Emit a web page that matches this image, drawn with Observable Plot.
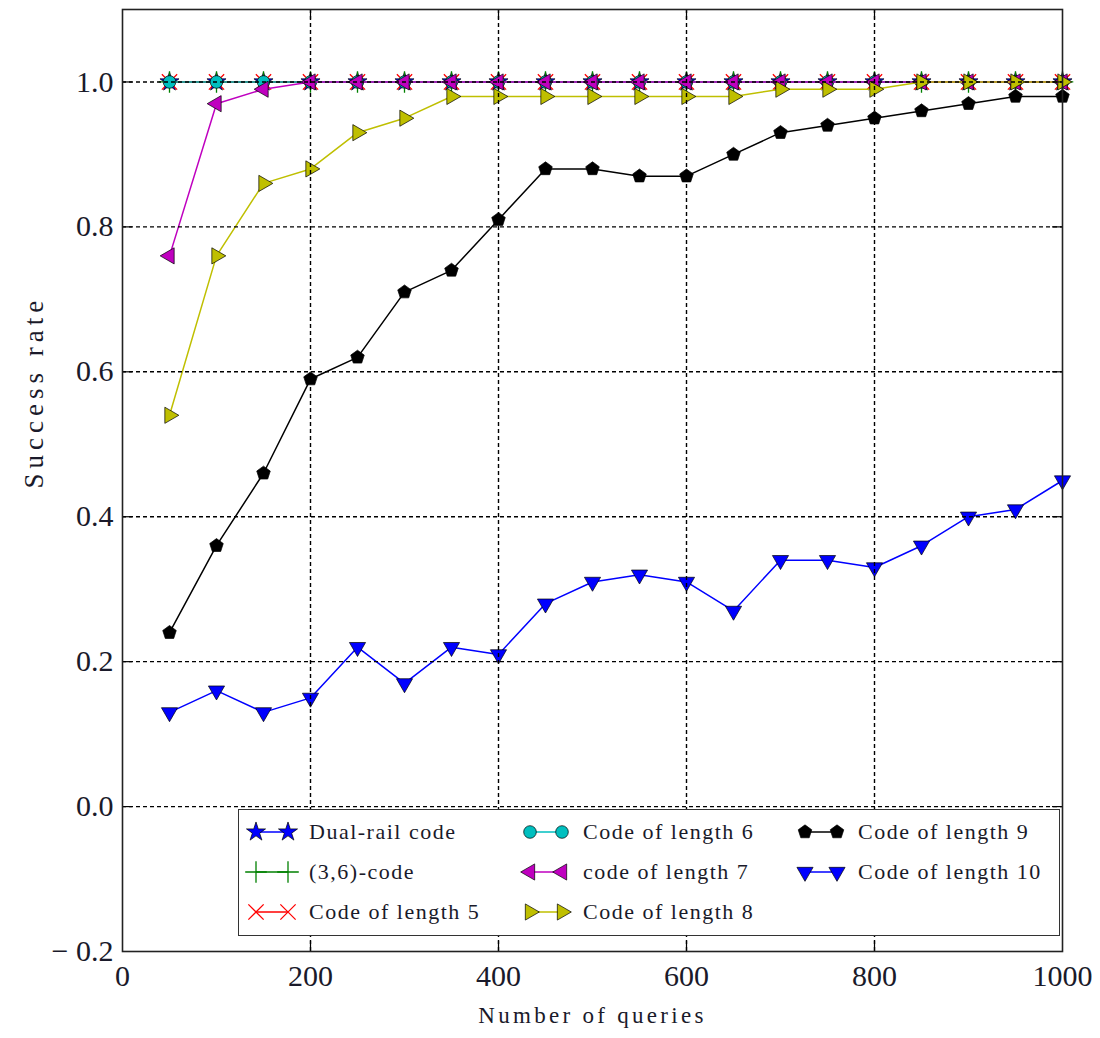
<!DOCTYPE html>
<html>
<head>
<meta charset="utf-8">
<script src="https://cdn.jsdelivr.net/npm/d3@7"></script>
<script src="https://cdn.jsdelivr.net/npm/@observablehq/plot@0.6"></script>
<style>
  body { margin: 0; background: #fff; }
  #wrap { position: relative; width: 1100px; height: 1038px; background: #fff; }
  #legend { position: absolute; left: 238px; top: 809px; width: 822px; height: 127px;
    border: 1.5px solid #333; background: #fff; box-sizing: border-box;
    font-family: "Liberation Serif", "Times New Roman", serif; font-size: 22px;
    letter-spacing: 1.5px; color: #1a1a2a; }
  .item { position: absolute; display: flex; align-items: center; height: 34px; white-space: nowrap; }
  .item svg { margin-right: 14px; overflow: visible; }
</style>
</head>
<body>
<div id="wrap"></div>
<script>
// ---- data ----
const queries = [50, 100, 150, 200, 250, 300, 350, 400, 450, 500, 550, 600, 650, 700, 750, 800, 850, 900, 950, 1000];
const dualRail = [1, 1, 1, 1, 1, 1, 1, 1, 1, 1, 1, 1, 1, 1, 1, 1, 1, 1, 1, 1];
const code36   = [1, 1, 1, 1, 1, 1, 1, 1, 1, 1, 1, 1, 1, 1, 1, 1, 1, 1, 1, 1];
const len5     = [1, 1, 1, 1, 1, 1, 1, 1, 1, 1, 1, 1, 1, 1, 1, 1, 1, 1, 1, 1];
const len6     = [1, 1, 1, 1, 1, 1, 1, 1, 1, 1, 1, 1, 1, 1, 1, 1, 1, 1, 1, 1];
const len7     = [0.76, 0.97, 0.99, 1, 1, 1, 1, 1, 1, 1, 1, 1, 1, 1, 1, 1, 1, 1, 1, 1];
const len8     = [0.54, 0.76, 0.86, 0.88, 0.93, 0.95, 0.98, 0.98, 0.98, 0.98, 0.98, 0.98, 0.98, 0.99, 0.99, 0.99, 1, 1, 1, 1];
const len9     = [0.24, 0.36, 0.46, 0.59, 0.62, 0.71, 0.74, 0.81, 0.88, 0.88, 0.87, 0.87, 0.90, 0.93, 0.94, 0.95, 0.96, 0.97, 0.98, 0.98];
const len10    = [0.13, 0.16, 0.13, 0.15, 0.22, 0.17, 0.22, 0.21, 0.28, 0.31, 0.32, 0.31, 0.27, 0.34, 0.34, 0.33, 0.36, 0.40, 0.41, 0.45];

const seriesNames = ["Dual-rail code", "(3,6)-code", "Code of length 5", "Code of length 6",
  "code of length 7", "Code of length 8", "Code of length 9", "Code of length 10"];
const seriesValues = [dualRail, code36, len5, len6, len7, len8, len9, len10];
const seriesColors = ["#0000ff", "#008000", "#ff0000", "#00bfbf", "#bf00bf", "#bfbf00", "#000000", "#0000ff"];

const xTicks = [0, 200, 400, 600, 800, 1000];
const yTicks = [-0.2, 0, 0.2, 0.4, 0.6, 0.8, 1.0];
const xGrid = [200, 400, 600, 800];
const yGrid = [0, 0.2, 0.4, 0.6, 0.8, 1.0];
const xLabel = "Number of queries";
const yLabel = "Success rate";

// ---- symbols ----
function triangle(angleDeg) {
  return { draw(ctx, size) {
    const R = Math.sqrt(size / 1.299);
    for (let i = 0; i < 3; i++) {
      const a = (angleDeg - 90 + i * 120) * Math.PI / 180;
      const x = R * Math.cos(a), y = R * Math.sin(a);
      i ? ctx.lineTo(x, y) : ctx.moveTo(x, y);
    }
    ctx.closePath();
  } };
}
const pentagon = { draw(ctx, size) {
  const R = Math.sqrt(size / 2.3776);
  for (let i = 0; i < 5; i++) {
    const a = -Math.PI / 2 + i * 2 * Math.PI / 5;
    const x = R * Math.cos(a), y = R * Math.sin(a);
    i ? ctx.lineTo(x, y) : ctx.moveTo(x, y);
  }
  ctx.closePath();
} };

const seriesStyle = [
  { sym: d3.symbolStar, r: 6, fill: "#0000ff", edge: "#000", sw: 0.7 },
  { sym: d3.symbolPlus, r: 7, fill: "none", edge: "#008000", sw: 1.3 },
  { sym: d3.symbolTimes, r: 7, fill: "none", edge: "#ff0000", sw: 1.3 },
  { sym: d3.symbolCircle, r: 6.3, fill: "#00bfbf", edge: "#000", sw: 0.7 },
  { sym: triangle(-90), r: 6, fill: "#bf00bf", edge: "#000", sw: 0.7 },
  { sym: triangle(90), r: 6, fill: "#bfbf00", edge: "#000", sw: 0.7 },
  { sym: pentagon, r: 6.2, fill: "#000000", edge: "#000", sw: 0.7 },
  { sym: triangle(180), r: 6, fill: "#0000ff", edge: "#000", sw: 0.7 }
];

// ---- marks ----
const marks = [];
seriesValues.forEach((vals, k) => {
  const data = queries.map((q, i) => ({ q, v: vals[i] }));
  const st = seriesStyle[k];
  marks.push(Plot.line(data, { x: "q", y: "v", stroke: seriesColors[k], strokeWidth: 1.5 }));
  marks.push(Plot.dot(data, { x: "q", y: "v", symbol: st.sym, r: st.r, fill: st.fill, stroke: st.edge, strokeWidth: st.sw }));
});

const W = 1100, H = 1038, mL = 122, mR = 38, mT = 9, mB = 87;
const plotH = H - mT - mB, plotW = W - mL - mR;

marks.push(Plot.gridX(xGrid, { stroke: "#000", strokeOpacity: 1, strokeWidth: 1.4, strokeDasharray: "4,3" }));
marks.push(Plot.gridY(yGrid, { stroke: "#000", strokeOpacity: 1, strokeWidth: 1.4, strokeDasharray: "4,3" }));
// inward ticks
marks.push(Plot.tickX(xGrid, { x: d => d, insetTop: plotH - 10, stroke: "#000", strokeWidth: 1.2 }));
marks.push(Plot.tickX(xGrid, { x: d => d, insetBottom: plotH - 10, stroke: "#000", strokeWidth: 1.2 }));
marks.push(Plot.tickY(yGrid, { y: d => d, insetRight: plotW - 10, stroke: "#000", strokeWidth: 1.2 }));
marks.push(Plot.tickY(yGrid, { y: d => d, insetLeft: plotW - 10, stroke: "#000", strokeWidth: 1.2 }));

marks.push(Plot.axisX(xTicks, { tickSize: 0, tickPadding: 13, fontSize: 30, fill: "#1a1a2a", tickFormat: d => String(d), label: null }));
marks.push(Plot.axisY(yTicks, { tickSize: 0, tickPadding: 9, fontSize: 30, fill: "#1a1a2a",
  tickFormat: d => d < 0 ? "\u2212 " + Math.abs(d).toFixed(1) : d.toFixed(1), label: null }));
marks.push(Plot.frame({ stroke: "#222", strokeWidth: 1.6 }));
marks.push(Plot.text([xLabel], { frameAnchor: "bottom", dy: 71, fontSize: 23, fill: "#1a1a2a" }));
marks.push(Plot.text([yLabel], { frameAnchor: "left", dx: -88, dy: 8, rotate: -90, fontSize: 27, fill: "#1a1a2a" }));

const chart = Plot.plot({
  width: W, height: H,
  marginLeft: mL, marginRight: mR, marginTop: mT, marginBottom: mB,
  x: { domain: [0, 1000] },
  y: { domain: [-0.2, 1.1] },
  style: { fontFamily: '"Liberation Serif", "Times New Roman", serif', background: "#fff", overflow: "visible" },
  marks
});

// letter spacing for axis titles
chart.querySelectorAll("text").forEach(t => {
  if (t.textContent === xLabel) t.setAttribute("letter-spacing", "3.3");
  if (t.textContent === yLabel) t.setAttribute("letter-spacing", "5");
});

const wrap = document.getElementById("wrap");
wrap.appendChild(chart);

// ---- legend ----
const legend = document.createElement("div");
legend.id = "legend";
wrap.appendChild(legend);
const colX = [10, 284, 559];
const rowY = [22, 62, 102];
seriesNames.forEach((name, k) => {
  const col = Math.floor(k / 3), row = k % 3;
  const item = document.createElement("div");
  item.className = "item";
  item.style.left = colX[col] + "px";
  item.style.top = (rowY[row] - 17) + "px";
  const st = seriesStyle[k];
  const svg = d3.create("svg").attr("width", 46).attr("height", 24);
  svg.append("line").attr("x1", 7).attr("x2", 39).attr("y1", 12).attr("y2", 12)
    .attr("stroke", seriesColors[k]).attr("stroke-width", 1.5);
  const p = d3.symbol(st.sym, Math.PI * st.r * st.r)();
  [7, 39].forEach(cx => {
    svg.append("path").attr("d", p).attr("transform", `translate(${cx},12)`)
      .attr("fill", st.fill).attr("stroke", st.edge).attr("stroke-width", st.sw);
  });
  item.appendChild(svg.node());
  const span = document.createElement("span");
  span.textContent = name;
  item.appendChild(span);
  legend.appendChild(item);
});
</script>
</body>
</html>
